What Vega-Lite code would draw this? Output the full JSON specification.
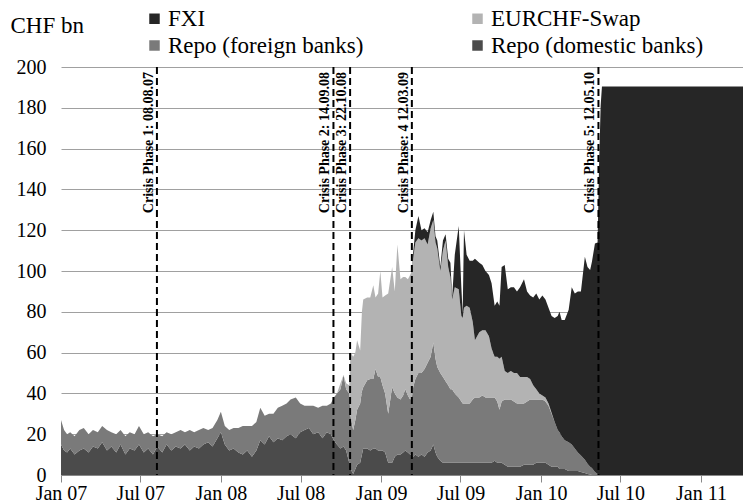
{
 "$schema": "https://vega.github.io/schema/vega-lite/v6.json",
 "width": 682, "height": 408,
 "autosize": {"type": "none"},
 "padding": {"left": 61, "top": 67, "right": 0, "bottom": 29},
 "background": "white",
 "config": {"font": "Liberation Serif", "view": {"stroke": null}},
 "datasets": {
  "main": [
   {"t":"2007-01-01","a":15,"b":12,"c":0,"d":0},
   {"t":"2007-01-08","a":12,"b":10,"c":0,"d":0},
   {"t":"2007-01-15","a":11,"b":9,"c":0,"d":0},
   {"t":"2007-01-22","a":13,"b":8,"c":0,"d":0},
   {"t":"2007-02-01","a":10,"b":9,"c":0,"d":0},
   {"t":"2007-02-12","a":12,"b":10,"c":0,"d":0},
   {"t":"2007-02-22","a":13,"b":10,"c":0,"d":0},
   {"t":"2007-03-05","a":11,"b":9,"c":0,"d":0},
   {"t":"2007-03-15","a":14,"b":8,"c":0,"d":0},
   {"t":"2007-03-26","a":13,"b":8,"c":0,"d":0},
   {"t":"2007-04-05","a":16,"b":8,"c":0,"d":0},
   {"t":"2007-04-16","a":12,"b":10,"c":0,"d":0},
   {"t":"2007-04-26","a":14,"b":7,"c":0,"d":0},
   {"t":"2007-05-07","a":11,"b":9,"c":0,"d":0},
   {"t":"2007-05-17","a":15,"b":7,"c":0,"d":0},
   {"t":"2007-05-28","a":10,"b":9,"c":0,"d":0},
   {"t":"2007-06-07","a":13,"b":8,"c":0,"d":0},
   {"t":"2007-06-18","a":12,"b":8,"c":0,"d":0},
   {"t":"2007-06-28","a":15,"b":9,"c":0,"d":0},
   {"t":"2007-07-09","a":11,"b":9,"c":0,"d":0},
   {"t":"2007-07-19","a":13,"b":8,"c":0,"d":0},
   {"t":"2007-07-30","a":10,"b":9,"c":0,"d":0},
   {"t":"2007-08-09","a":14,"b":6,"c":0,"d":0},
   {"t":"2007-08-20","a":11,"b":8,"c":0,"d":0},
   {"t":"2007-08-30","a":15,"b":6,"c":0,"d":0},
   {"t":"2007-09-10","a":12,"b":8,"c":0,"d":0},
   {"t":"2007-09-20","a":14,"b":7,"c":0,"d":0},
   {"t":"2007-10-01","a":13,"b":9,"c":0,"d":0},
   {"t":"2007-10-11","a":15,"b":6,"c":0,"d":0},
   {"t":"2007-10-22","a":12,"b":10,"c":0,"d":0},
   {"t":"2007-11-01","a":14,"b":7,"c":0,"d":0},
   {"t":"2007-11-12","a":13,"b":9,"c":0,"d":0},
   {"t":"2007-11-22","a":15,"b":8,"c":0,"d":0},
   {"t":"2007-12-03","a":16,"b":6,"c":0,"d":0},
   {"t":"2007-12-13","a":14,"b":9,"c":0,"d":0},
   {"t":"2007-12-24","a":18,"b":9,"c":0,"d":0},
   {"t":"2008-01-01","a":21,"b":10,"c":0,"d":0},
   {"t":"2008-01-10","a":15,"b":9,"c":0,"d":0},
   {"t":"2008-01-20","a":12,"b":10,"c":0,"d":0},
   {"t":"2008-01-30","a":13,"b":10,"c":0,"d":0},
   {"t":"2008-02-10","a":11,"b":12,"c":0,"d":0},
   {"t":"2008-02-20","a":10,"b":14,"c":0,"d":0},
   {"t":"2008-03-01","a":12,"b":12,"c":0,"d":0},
   {"t":"2008-03-12","a":9,"b":15,"c":0,"d":0},
   {"t":"2008-03-22","a":12,"b":14,"c":0,"d":0},
   {"t":"2008-03-31","a":17,"b":16,"c":0,"d":0},
   {"t":"2008-04-10","a":15,"b":14,"c":0,"d":0},
   {"t":"2008-04-20","a":19,"b":11,"c":0,"d":0},
   {"t":"2008-04-30","a":16,"b":14,"c":0,"d":0},
   {"t":"2008-05-10","a":18,"b":15,"c":0,"d":0},
   {"t":"2008-05-20","a":17,"b":17,"c":0,"d":0},
   {"t":"2008-05-30","a":19,"b":16,"c":0,"d":0},
   {"t":"2008-06-08","a":20,"b":17,"c":0,"d":0},
   {"t":"2008-06-20","a":18,"b":20,"c":0,"d":0},
   {"t":"2008-06-30","a":21,"b":14,"c":0,"d":0},
   {"t":"2008-07-10","a":22,"b":12,"c":0,"d":0},
   {"t":"2008-07-20","a":23,"b":11,"c":0,"d":0},
   {"t":"2008-07-30","a":20,"b":14,"c":0,"d":0},
   {"t":"2008-08-10","a":21,"b":12,"c":0,"d":0},
   {"t":"2008-08-20","a":18,"b":16,"c":0,"d":0},
   {"t":"2008-08-30","a":21,"b":13,"c":0,"d":0},
   {"t":"2008-09-08","a":20,"b":15,"c":0,"d":0},
   {"t":"2008-09-15","a":17,"b":21,"c":0,"d":0},
   {"t":"2008-09-22","a":15,"b":25,"c":0,"d":0},
   {"t":"2008-09-30","a":13,"b":29,"c":3,"d":0},
   {"t":"2008-10-07","a":14,"b":35,"c":0,"d":0},
   {"t":"2008-10-13","a":12,"b":30,"c":3,"d":0},
   {"t":"2008-10-20","a":6,"b":34,"c":4,"d":0},
   {"t":"2008-10-23","a":3,"b":26,"c":31,"d":0},
   {"t":"2008-10-29","a":0.5,"b":21.5,"c":36,"d":0},
   {"t":"2008-11-03","a":3,"b":24,"c":33,"d":0},
   {"t":"2008-11-07","a":5,"b":27,"c":34,"d":0},
   {"t":"2008-11-14","a":6,"b":29,"c":26,"d":0},
   {"t":"2008-11-18","a":10,"b":31,"c":39,"d":0},
   {"t":"2008-11-21","a":13,"b":30,"c":43,"d":0},
   {"t":"2008-11-30","a":13,"b":33.5,"c":40.5,"d":0},
   {"t":"2008-12-07","a":12,"b":35,"c":40,"d":0},
   {"t":"2008-12-14","a":13,"b":34,"c":46,"d":0},
   {"t":"2008-12-19","a":13,"b":39,"c":35,"d":0},
   {"t":"2008-12-25","a":12,"b":36,"c":41,"d":0},
   {"t":"2008-12-30","a":12,"b":36,"c":52,"d":0},
   {"t":"2009-01-04","a":12,"b":32,"c":43,"d":0},
   {"t":"2009-01-10","a":11,"b":29,"c":48,"d":0},
   {"t":"2009-01-17","a":6,"b":24,"c":59,"d":0},
   {"t":"2009-01-26","a":6,"b":37,"c":59,"d":0},
   {"t":"2009-02-01","a":9,"b":31,"c":50,"d":0},
   {"t":"2009-02-07","a":10,"b":28,"c":75,"d":0},
   {"t":"2009-02-14","a":10,"b":27,"c":59,"d":0},
   {"t":"2009-02-20","a":11,"b":28,"c":58,"d":0},
   {"t":"2009-02-25","a":12,"b":30,"c":55,"d":0},
   {"t":"2009-03-03","a":11,"b":28,"c":57,"d":0},
   {"t":"2009-03-08","a":10,"b":27,"c":61,"d":0},
   {"t":"2009-03-12","a":10,"b":28,"c":62,"d":0},
   {"t":"2009-03-15","a":9,"b":34,"c":63,"d":3},
   {"t":"2009-03-20","a":10,"b":37,"c":67,"d":6},
   {"t":"2009-03-27","a":9,"b":41,"c":66,"d":11},
   {"t":"2009-04-03","a":10,"b":40,"c":65,"d":5},
   {"t":"2009-04-10","a":9,"b":43,"c":64,"d":5},
   {"t":"2009-04-17","a":11,"b":44,"c":58,"d":6},
   {"t":"2009-04-24","a":12,"b":46,"c":63,"d":4},
   {"t":"2009-04-30","a":15,"b":50,"c":60,"d":4},
   {"t":"2009-05-05","a":11,"b":46,"c":57,"d":3},
   {"t":"2009-05-09","a":9,"b":44,"c":58,"d":4},
   {"t":"2009-05-16","a":7,"b":43,"c":50,"d":2},
   {"t":"2009-05-22","a":6,"b":42,"c":62,"d":5},
   {"t":"2009-05-28","a":6,"b":40,"c":69,"d":3},
   {"t":"2009-06-03","a":6,"b":38,"c":58,"d":4},
   {"t":"2009-06-08","a":6,"b":36,"c":55,"d":7},
   {"t":"2009-06-12","a":6,"b":36,"c":44,"d":1},
   {"t":"2009-06-18","a":6,"b":34,"c":52,"d":16},
   {"t":"2009-06-27","a":6,"b":32,"c":53,"d":31},
   {"t":"2009-07-03","a":6,"b":30,"c":42,"d":14},
   {"t":"2009-07-06","a":6,"b":29,"c":42,"d":2},
   {"t":"2009-07-09","a":6,"b":29,"c":47,"d":38},
   {"t":"2009-07-15","a":6,"b":29,"c":48,"d":25},
   {"t":"2009-07-22","a":6,"b":29,"c":47,"d":23},
   {"t":"2009-07-29","a":6,"b":31,"c":38,"d":30},
   {"t":"2009-08-03","a":6,"b":32,"c":28,"d":40},
   {"t":"2009-08-13","a":6,"b":32,"c":32,"d":34},
   {"t":"2009-08-20","a":6,"b":33,"c":32,"d":32},
   {"t":"2009-08-27","a":6,"b":32,"c":33,"d":29},
   {"t":"2009-09-04","a":6,"b":32,"c":30,"d":30},
   {"t":"2009-09-10","a":6,"b":32,"c":24,"d":32},
   {"t":"2009-09-17","a":7,"b":31,"c":20,"d":25},
   {"t":"2009-09-23","a":6,"b":30,"c":22,"d":27},
   {"t":"2009-09-28","a":6,"b":26,"c":25,"d":26},
   {"t":"2009-10-03","a":6,"b":30,"c":22,"d":44},
   {"t":"2009-10-10","a":5,"b":32,"c":14,"d":52},
   {"t":"2009-10-17","a":4,"b":33,"c":13,"d":41},
   {"t":"2009-10-24","a":4,"b":33,"c":14,"d":41},
   {"t":"2009-10-31","a":4,"b":32,"c":14,"d":42},
   {"t":"2009-11-07","a":4,"b":31,"c":15,"d":40},
   {"t":"2009-11-14","a":4,"b":31,"c":13,"d":44},
   {"t":"2009-11-23","a":5,"b":30,"c":13,"d":48},
   {"t":"2009-11-30","a":5,"b":31,"c":12,"d":42},
   {"t":"2009-12-07","a":5,"b":32,"c":10,"d":41},
   {"t":"2009-12-14","a":5,"b":32,"c":7,"d":43},
   {"t":"2009-12-21","a":6,"b":31,"c":5,"d":47},
   {"t":"2009-12-28","a":6,"b":31,"c":3,"d":46},
   {"t":"2010-01-04","a":6,"b":31,"c":2,"d":49},
   {"t":"2010-01-11","a":6,"b":30,"c":2,"d":48},
   {"t":"2010-01-18","a":5,"b":29,"c":1,"d":47},
   {"t":"2010-01-25","a":4,"b":26,"c":0.5,"d":47.5},
   {"t":"2010-02-01","a":4,"b":22,"c":0,"d":51},
   {"t":"2010-02-08","a":4,"b":18,"c":0,"d":56},
   {"t":"2010-02-12","a":3,"b":18,"c":0,"d":59},
   {"t":"2010-02-17","a":3,"b":16,"c":0,"d":57},
   {"t":"2010-02-24","a":3,"b":14,"c":0,"d":59},
   {"t":"2010-03-05","a":2,"b":14,"c":0,"d":65},
   {"t":"2010-03-12","a":2,"b":13,"c":0,"d":77},
   {"t":"2010-03-19","a":2,"b":11,"c":0,"d":76},
   {"t":"2010-03-26","a":2,"b":9,"c":0,"d":79},
   {"t":"2010-04-02","a":1.5,"b":8,"c":0,"d":80.5},
   {"t":"2010-04-11","a":1,"b":6.5,"c":0,"d":99.5},
   {"t":"2010-04-17","a":0.5,"b":5,"c":0,"d":96.5},
   {"t":"2010-04-23","a":0.3,"b":3.7,"c":0,"d":96.5},
   {"t":"2010-04-27","a":0,"b":3.4,"c":0,"d":101},
   {"t":"2010-05-04","a":0,"b":1.5,"c":0,"d":112},
   {"t":"2010-05-10","a":0,"b":0.5,"c":0,"d":113.5},
   {"t":"2010-05-13","a":0,"b":0,"c":0,"d":148},
   {"t":"2010-05-17","a":0,"b":0,"c":0,"d":181},
   {"t":"2010-05-20","a":0,"b":0,"c":0,"d":190.5},
   {"t":"2010-08-01","a":0,"b":0,"c":0,"d":190.5},
   {"t":"2010-12-01","a":0,"b":0,"c":0,"d":190.5},
   {"t":"2011-04-07","a":0,"b":0,"c":0,"d":190.5}
  ],
  "phases": [
   {"t":"2007-08-08","label":"Crisis Phase 1: 08.08.07"},
   {"t":"2008-09-14","label":"Crisis Phase 2: 14.09.08"},
   {"t":"2008-10-22","label":"Crisis Phase 3: 22.10.08"},
   {"t":"2009-03-12","label":"Crisis Phase: 4  12.03.09"},
   {"t":"2010-05-12","label":"Crisis Phase 5: 12.05.10"}
  ]
 },
 "layer": [
  {
   "data": {"name": "main"},
   "transform": [{"fold": ["a","b","c","d"], "as": ["k","v"]}],
   "mark": {"type": "area", "interpolate": "linear"},
   "encoding": {
    "x": {"field": "t", "type": "temporal",
     "scale": {"type": "utc", "nice": false, "domain": [{"year":2007,"month":1,"date":1,"utc":true},{"year":2011,"month":4,"date":7,"utc":true}]},
     "axis": {"title": null, "grid": false,
      "labelExpr": "utcFormat(datum.value, '%b %y')",
      "values": [{"year":2007,"month":1,"date":1,"utc":true},{"year":2007,"month":7,"date":1,"utc":true},{"year":2008,"month":1,"date":1,"utc":true},{"year":2008,"month":7,"date":1,"utc":true},{"year":2009,"month":1,"date":1,"utc":true},{"year":2009,"month":7,"date":1,"utc":true},{"year":2010,"month":1,"date":1,"utc":true},{"year":2010,"month":7,"date":1,"utc":true},{"year":2011,"month":1,"date":1,"utc":true}],
      "labelFontSize": 20, "labelColor": "black", "labelPadding": 1, "labelFlush": false, "labelOverlap": false,
      "tickColor": "#888888", "tickSize": 7, "domainColor": "#888888"}},
    "y": {"field": "v", "type": "quantitative", "stack": "zero",
     "scale": {"domain": [0, 200], "nice": false},
     "axis": {"values": [0,20,40,60,80,100,120,140,160,180,200], "title": "CHF bn", "titleAngle": 0, "titleAlign": "left", "titleBaseline": "alphabetic", "titleX": -51, "titleY": -35, "titleFontSize": 23, "titleFontWeight": "normal", "titleColor": "black",
      "labelFontSize": 20, "labelColor": "black", "ticks": false, "tickSize": 0, "domain": false, "labelPadding": 15,
      "grid": true, "gridColor": "#a0a0a0", "gridWidth": 1}},
    "color": {"field": "k", "type": "nominal",
     "scale": {"domain": ["d","b","c","a"], "range": ["#262626","#7a7a7a","#b3b3b3","#4b4b4b"]},
     "legend": {"title": null, "orient": "none", "legendX": 82, "legendY": -60, "columns": 2, "symbolType": "square", "symbolSize": 110, "symbolStrokeWidth": 0,
      "labelFontSize": 23, "labelColor": "black", "labelOffset": 2, "columnPadding": 102, "rowPadding": 3, "labelLimit": 400,
      "labelExpr": "datum.label == 'd' ? 'FXI' : datum.label == 'c' ? 'EURCHF-Swap' : datum.label == 'b' ? 'Repo (foreign banks)' : 'Repo (domestic banks)'"}},
    "order": {"field": "k", "sort": "ascending"}
   }
  },
  {
   "data": {"name": "phases"},
   "mark": {"type": "rule", "strokeDash": [7, 4], "strokeWidth": 2, "color": "black"},
   "encoding": {"x": {"field": "t", "type": "temporal", "scale": {"type": "utc"}}}
  },
  {
   "data": {"name": "phases"},
   "mark": {"type": "text", "angle": 270, "align": "right", "baseline": "bottom", "dx": -5, "dy": -1, "fontSize": 14, "fontWeight": "bold", "color": "black"},
   "encoding": {"x": {"field": "t", "type": "temporal", "scale": {"type": "utc"}}, "y": {"datum": 200}, "text": {"field": "label"}}
  }
 ]
}
